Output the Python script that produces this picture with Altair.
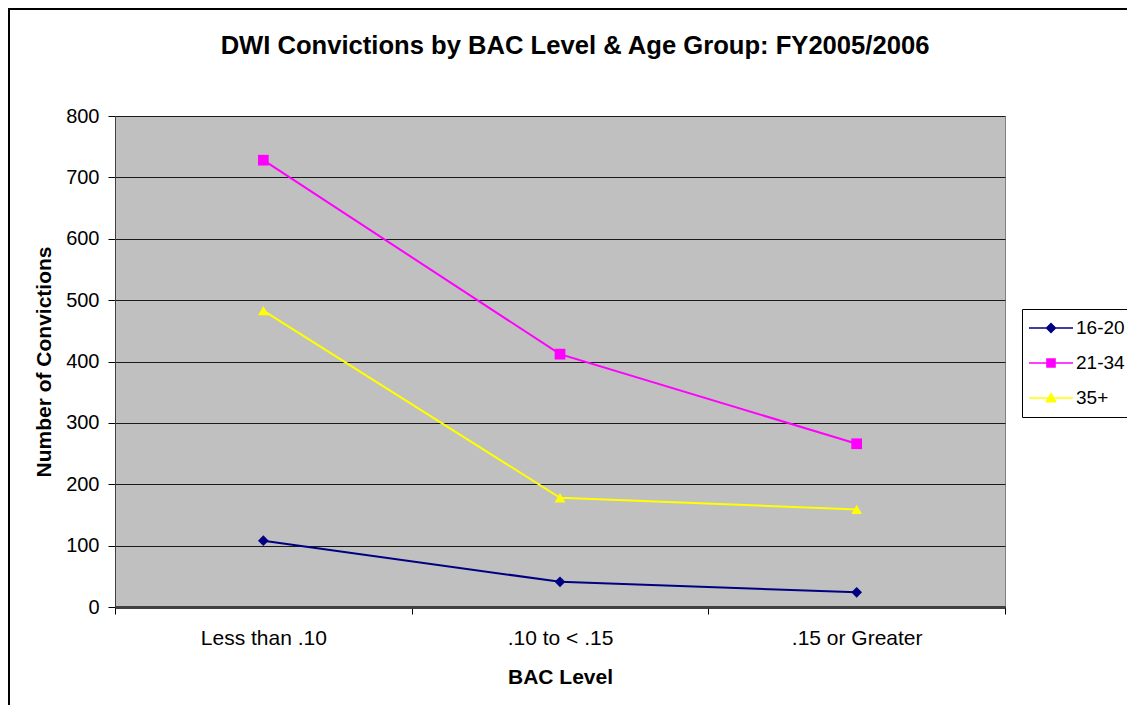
import altair as alt
import pandas as pd

# ---- data ----
title_text = "DWI Convictions by BAC Level & Age Group: FY2005/2006"
categories = ["Less than .10", ".10 to < .15", ".15 or Greater"]
groups = ["16-20", "21-34", "35+"]
v_16_20 = [108, 41, 24]
v_21_34 = [728, 412, 266]
v_35_plus = [483, 178, 159]
y_ticks = [0, 100, 200, 300, 400, 500, 600, 700, 800]

colors = ["#000080", "#FF00FF", "#FFFF00"]
shapes = ["diamond", "square", "triangle-up"]
# legend symbols: a short line with the marker on it (Excel style)
legend_paths = [
    "M-2.2,-0.08L2.2,-0.08L2.2,0.08L-2.2,0.08Z M0,-0.55L0.55,0L0,0.55L-0.55,0Z",
    "M-2.2,-0.08L2.2,-0.08L2.2,0.08L-2.2,0.08Z M-0.48,-0.48L0.48,-0.48L0.48,0.48L-0.48,0.48Z",
    "M-2.2,-0.08L2.2,-0.08L2.2,0.08L-2.2,0.08Z M0,-0.6L0.58,0.45L-0.58,0.45Z",
]

rows = []
for g, vals in zip(groups, [v_16_20, v_21_34, v_35_plus]):
    for c, v in zip(categories, vals):
        rows.append({"bac": c, "group": g, "n": v})
df = pd.DataFrame(rows)

FONT = "Liberation Sans"

x = alt.X(
    "bac:N",
    sort=categories,
    scale=alt.Scale(type="band", paddingInner=0, paddingOuter=0),
    axis=alt.Axis(
        title="BAC Level",
        tickBand="extent",
        labelAngle=0,
        labelFontSize=21,
        labelFont=FONT,
        labelColor="black",
        labelPadding=13,
        tickSize=7,
        tickColor="black",
        domainColor="#404040",
        domainWidth=3,
        grid=False,
        titleFontSize=21,
        titleFont=FONT,
        titleFontWeight="bold",
        titleColor="black",
        titleX=445,
        titleY=76,
        titleAlign="center",
        titleBaseline="alphabetic",
    ),
)
y = alt.Y(
    "n:Q",
    scale=alt.Scale(domain=[0, 800], nice=False),
    axis=alt.Axis(
        title="Number of Convictions",
        values=y_ticks,
        labelFontSize=20,
        labelFont=FONT,
        labelColor="black",
        labelPadding=9,
        tickSize=7,
        tickColor="black",
        domainColor="#404040",
        domainWidth=1,
        grid=True,
        gridColor="#1a1a1a",
        gridWidth=1,
        titleFontSize=21,
        titleFont=FONT,
        titleFontWeight="bold",
        titleColor="black",
        titleAngle=270,
        titleX=-71,
        titleY=245.5,
        titleAlign="center",
        titleBaseline="middle",
    ),
)

color_plain = alt.Color("group:N", scale=alt.Scale(domain=groups, range=colors), legend=None)

lines = alt.Chart(df).mark_line(strokeWidth=2).encode(x=x, y=y, color=color_plain)

points = alt.Chart(df).mark_point(filled=True, opacity=1, size=115, strokeWidth=0).encode(
    x=x,
    y=y,
    color=color_plain,
    shape=alt.Shape("group:N", scale=alt.Scale(domain=groups, range=shapes), legend=None),
)

leg = alt.Legend(
    title=None,
    orient="none",
    legendX=907,
    legendY=193,
    strokeColor="black",
    fillColor="white",
    padding=9,
    symbolOffset=10,
    labelOffset=15,
    labelFontSize=19,
    labelFont=FONT,
    labelColor="black",
    rowPadding=15,
    symbolSize=400,
    symbolStrokeWidth=0,
    symbolOpacity=1,
    cornerRadius=0,
)

legend_layer = alt.Chart(df).mark_point(filled=True, opacity=0, size=400).encode(
    x=x,
    y=y,
    color=alt.Color("group:N", scale=alt.Scale(domain=groups, range=colors), legend=leg),
    shape=alt.Shape("group:N", scale=alt.Scale(domain=groups, range=legend_paths), legend=leg),
)

border = alt.Chart(alt.Data(values=[{}])).mark_rect(
    fillOpacity=0, stroke="black", strokeWidth=2
).encode(
    x=alt.value(-106), x2=alt.value(1200), y=alt.value(-107), y2=alt.value(800)
)

title = alt.Chart(alt.Data(values=[{"t": title_text}])).mark_text(
    font=FONT, fontSize=25.6, fontWeight="bold", color="black",
    align="center", baseline="alphabetic"
).encode(text="t:N", x=alt.value(460), y=alt.value(-62))

chart = (
    alt.layer(border, title, lines, points, legend_layer)
    .resolve_scale(color="independent", shape="independent")
    .properties(
        width=890,
        height=491,
        autosize=alt.AutoSizeParams(type="none"),
        padding={"left": 107, "top": 108, "right": 122, "bottom": 98},
    )
    .configure(background="white")
    .configure_view(fill="#C0C0C0", stroke="#808080", strokeWidth=1)
)

chart.save("out.html", embed_options={"renderer": "svg", "actions": False})
